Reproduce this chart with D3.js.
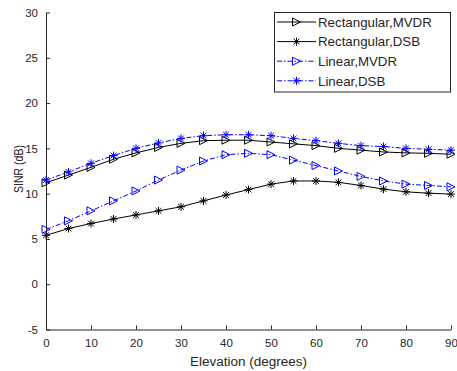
<!DOCTYPE html>
<html>
<head>
<meta charset="utf-8">
<script src="https://cdn.jsdelivr.net/npm/d3@7"></script>
<style>
  html, body { margin: 0; padding: 0; background: #fff; }
  svg { display: block; }
  text { font-family: "Liberation Sans", Arial, sans-serif; fill: #262626; }
</style>
</head>
<body>
<svg id="chart" width="457" height="371"></svg>
<script>
// Elevation angles (degrees)
const elevation = [0, 5, 10, 15, 20, 25, 30, 35, 40, 45, 50, 55, 60, 65, 70, 75, 80, 85, 90];

// SINR (dB) for each array / beamformer combination
const rectMVDR = [11.2, 12.05, 12.9, 13.8, 14.5, 15.1, 15.55, 15.85, 15.9, 15.9, 15.7, 15.5, 15.3, 15.0, 14.8, 14.6, 14.5, 14.45, 14.35];
const rectDSB  = [5.4, 6.15, 6.7, 7.2, 7.65, 8.1, 8.55, 9.2, 9.85, 10.45, 11.05, 11.4, 11.4, 11.25, 10.9, 10.5, 10.2, 10.05, 9.95];
const linMVDR  = [6.05, 7.0, 8.1, 9.2, 10.3, 11.5, 12.6, 13.6, 14.3, 14.45, 14.3, 13.7, 13.1, 12.5, 11.9, 11.4, 11.05, 10.9, 10.75];
const linDSB   = [11.5, 12.4, 13.35, 14.2, 15.0, 15.6, 16.1, 16.4, 16.5, 16.5, 16.4, 16.1, 15.85, 15.55, 15.3, 15.2, 15.0, 14.9, 14.8];

const seriesNames = ["Rectangular,MVDR", "Rectangular,DSB", "Linear,MVDR", "Linear,DSB"];
const xTicks = [0, 10, 20, 30, 40, 50, 60, 70, 80, 90];
const yTicks = [-5, 0, 5, 10, 15, 20, 25, 30];

const series = [
  { name: seriesNames[0], values: rectMVDR, color: "#000000", dash: null, marker: "tri" },
  { name: seriesNames[1], values: rectDSB,  color: "#000000", dash: null, marker: "star" },
  { name: seriesNames[2], values: linMVDR,  color: "#0000ff", dash: "5,2,1.5,2", marker: "tri" },
  { name: seriesNames[3], values: linDSB,   color: "#0000ff", dash: "5,2,1.5,2", marker: "star" }
];

const svg = d3.select("#chart");
const margin = { left: 46, right: 6, top: 12.5, bottom: 41.5 };
const W = 457, H = 371;

const x = d3.scaleLinear().domain([0, 90]).range([margin.left, W - margin.right]);
const y = d3.scaleLinear().domain([-5, 30]).range([H - margin.bottom, margin.top]);

// Axes (ticks point inward); plain hyphen for negative labels
const fmt = d => String(d);
const xAxis = d3.axisBottom(x).tickValues(xTicks).tickFormat(fmt).tickSizeInner(-4).tickSizeOuter(0).tickPadding(9);
const yAxis = d3.axisLeft(y).tickValues(yTicks).tickFormat(fmt).tickSizeInner(-4).tickSizeOuter(0).tickPadding(8);

const gx = svg.append("g").attr("transform", `translate(0,${y(-5)})`).call(xAxis);
const gy = svg.append("g").attr("transform", `translate(${x(0)},0)`).call(yAxis);
[gx, gy].forEach(g => {
  g.selectAll("path.domain").attr("stroke", "#262626").attr("stroke-width", 1);
  g.selectAll(".tick line").attr("stroke", "#262626");
  g.selectAll(".tick text").attr("font-size", 11.5).attr("fill", "#262626")
    .attr("font-family", "'Liberation Sans', Arial, sans-serif");
});

// Axis titles
svg.append("text")
  .attr("x", (x(0) + x(90)) / 2).attr("y", 366)
  .attr("text-anchor", "middle").attr("font-size", 12.5)
  .attr("textLength", 117).attr("lengthAdjust", "spacingAndGlyphs")
  .text("Elevation (degrees)");
svg.append("text")
  .attr("transform", `translate(22.5,${(y(-5) + y(30)) / 2 - 2}) rotate(-90)`)
  .attr("text-anchor", "middle").attr("font-size", 12)
  .attr("textLength", 48).attr("lengthAdjust", "spacingAndGlyphs")
  .text("SINR (dB)");

// Marker drawing helpers
function drawMarker(g, type, cx, cy, color) {
  if (type === "tri") {
    const s = 4;
    g.append("path")
      .attr("d", `M${cx - s},${cy - s}L${cx + s},${cy}L${cx - s},${cy + s}Z`)
      .attr("fill", "none").attr("stroke", color).attr("stroke-width", 1);
  } else {
    const s = 4, d = s * 0.72;
    g.append("path")
      .attr("d", `M${cx - s},${cy}L${cx + s},${cy}M${cx},${cy - s}L${cx},${cy + s}` +
                 `M${cx - d},${cy - d}L${cx + d},${cy + d}M${cx - d},${cy + d}L${cx + d},${cy - d}`)
      .attr("fill", "none").attr("stroke", color).attr("stroke-width", 1);
  }
}

const line = d3.line().x((d, i) => x(elevation[i])).y(d => y(d));

series.forEach(s => {
  const g = svg.append("g");
  g.append("path")
    .datum(s.values)
    .attr("d", line)
    .attr("fill", "none")
    .attr("stroke", s.color)
    .attr("stroke-width", 1)
    .attr("stroke-dasharray", s.dash);
  s.values.forEach((v, i) => drawMarker(g, s.marker, x(elevation[i]), y(v), s.color));
});

// Legend
const lg = svg.append("g");
lg.append("rect")
  .attr("x", 274.5).attr("y", 12.5).attr("width", 176).attr("height", 79.5)
  .attr("fill", "#fff").attr("stroke", "#262626").attr("stroke-width", 1);
series.forEach((s, i) => {
  const ly = 22 + i * 19.6;
  lg.append("line")
    .attr("x1", 277).attr("x2", 316).attr("y1", ly).attr("y2", ly)
    .attr("stroke", s.color).attr("stroke-width", 1)
    .attr("stroke-dasharray", s.dash);
  drawMarker(lg, s.marker, 296.5, ly, s.color);
  lg.append("text")
    .attr("x", 318).attr("y", ly).attr("dy", "0.36em")
    .attr("font-size", 13.3).attr("fill", "#000")
    .text(s.name);
});
</script>
</body>
</html>
